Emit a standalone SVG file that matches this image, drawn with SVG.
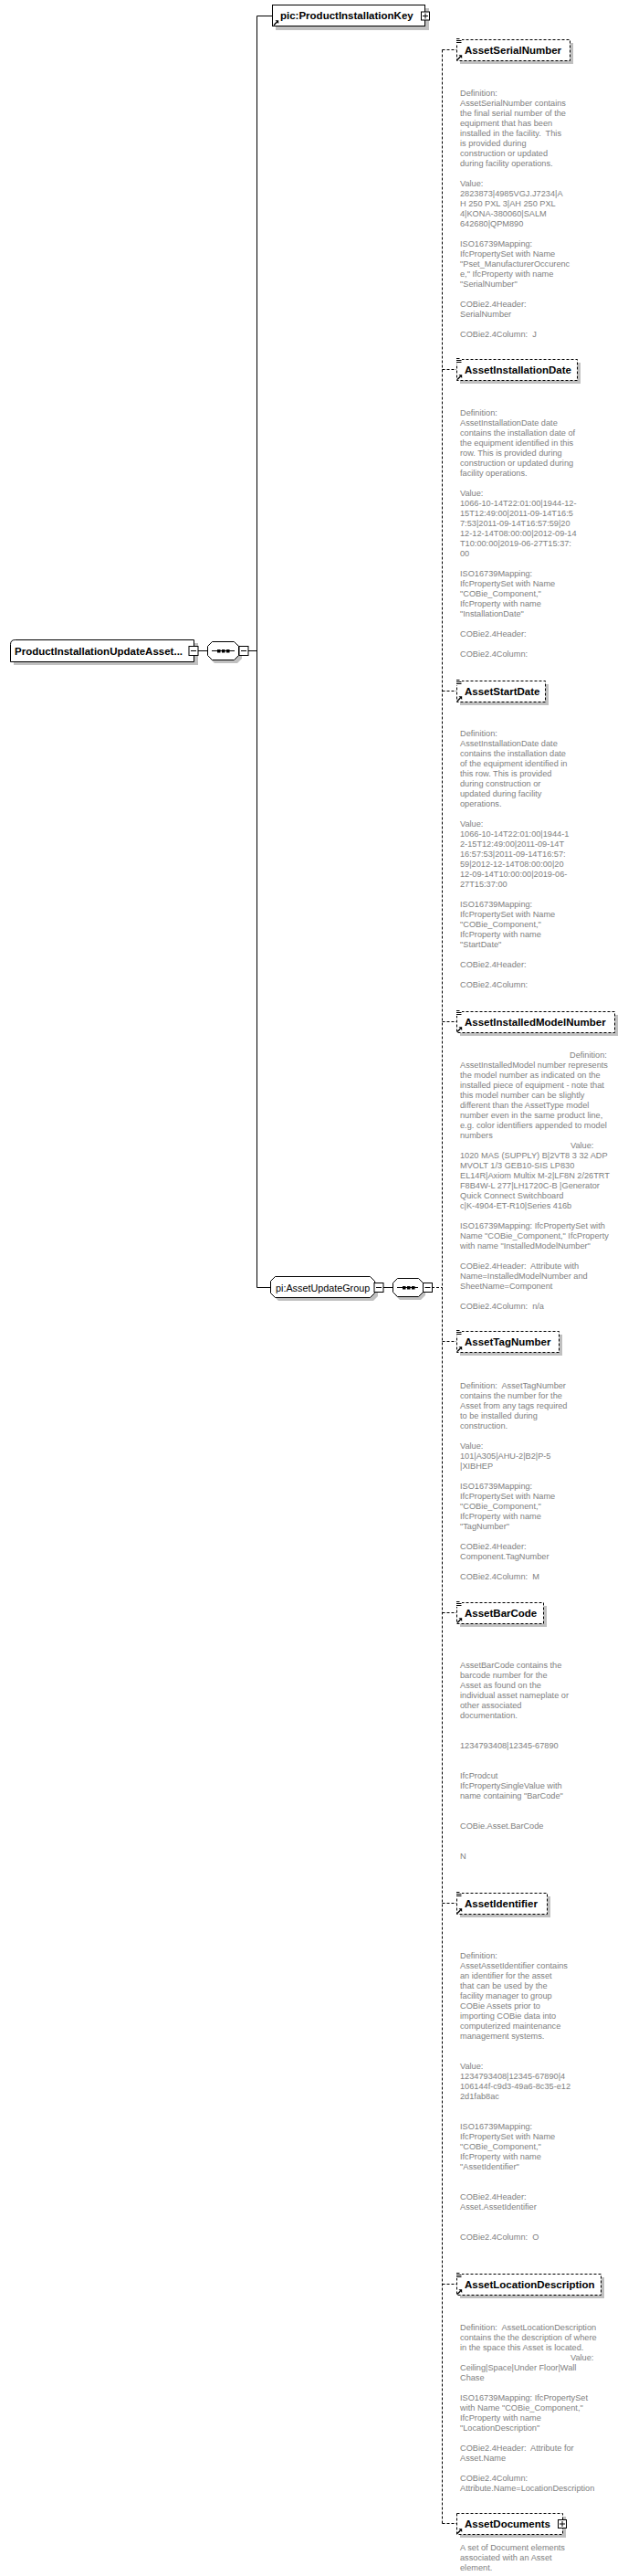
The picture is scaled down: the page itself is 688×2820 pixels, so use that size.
<svg xmlns="http://www.w3.org/2000/svg" xmlns:xlink="http://www.w3.org/1999/xlink" width="688" height="2820" viewBox="0 0 688 2820">
<style>
.t{font-family:"Liberation Sans",Arial,sans-serif;font-size:11.5px;font-weight:bold;fill:#000}
.g{font-family:"Liberation Sans",Arial,sans-serif;font-size:10.8px;fill:#000}
.d{font-family:"Liberation Sans",Arial,sans-serif;font-size:9.2px;fill:#808080}
.sh{fill:#c0c0c0}
.bx{fill:#fff;stroke:#000;stroke-width:1;stroke-dasharray:3,2}
.sb{fill:#fff;stroke:#000;stroke-width:1}
.ln{stroke:#000;stroke-width:1;fill:none}
.dl{stroke:#000;stroke-width:1;fill:none;stroke-dasharray:3,2}
.ic{stroke:#000;stroke-width:1;fill:none}
</style>
<defs>
<g id="lst"><rect x="-1" y="-2" width="7" height="6" fill="#fff"/><path class="ic" d="M0,-1.5H3.5M0,0.5H5.5M0,2.5H5.5"/></g>
<g id="arr"><path d="M1,6.5L4.5,3" stroke="#000" stroke-width="1.4"/><path d="M2.5,1.2H6.2V4.9Z" fill="#000"/></g>
<g id="minus"><rect x="0.5" y="0.5" width="10" height="10" class="sb"/><path d="M2.5,5.5H8.5" class="ic"/></g>
<g id="plus"><rect x="0.5" y="0.5" width="9" height="9" class="sb" stroke-width="1.3"/><path d="M2,5H8M5,2V8" class="ic"/></g>
</defs>

<g id="connectors">
<path class="ln" d="M281.5,17.5V1409.5"/>
<path class="ln" d="M281.5,17.5H298"/>
<path class="ln" d="M281.5,1409.5H296"/>
<path class="ln" d="M217,712.5H227"/>
<path class="ln" d="M272,712.5H281.5"/>
<path class="ln" d="M420,1409.5H430"/>
<path class="dl" d="M473,1409.5H484.5"/>
<path class="dl" d="M484.5,54.5V2762.5"/>
<path class="dl" d="M484.5,54.5H500"/>
<path class="dl" d="M484.5,404.5H500"/>
<path class="dl" d="M484.5,756.5H500"/>
<path class="dl" d="M484.5,1118.5H500"/>
<path class="dl" d="M484.5,1468.5H500"/>
<path class="dl" d="M484.5,1765.5H500"/>
<path class="dl" d="M484.5,2083.5H500"/>
<path class="dl" d="M484.5,2500.5H500"/>
<path class="dl" d="M484.5,2762.5H500"/>
</g>

<g id="ProductInstallationUpdateAsset">
<rect class="sh" x="15" y="704" width="202" height="24"/>
<path class="sb" d="M11.5,705.5Q11.5,700.5 16.5,700.5H212.5V724.5H11.5Z"/>
<text class="t" x="16" y="717">ProductInstallationUpdateAsset...</text>
<use xlink:href="#minus" x="206.5" y="707"/>
</g>

<g id="seq1">
<path class="sh" d="M235,705H260L265,710V721L260,726H235L230,721V710Z"/>
<path class="sb" d="M232.5,702.5H256.5L261.5,707.5V717.5L256.5,722.5H232.5L227.5,717.5V707.5Z"/>
<path class="ln" d="M232,712.5H257"/>
<rect x="238" y="711" width="3.5" height="3.5" fill="#000"/>
<rect x="243" y="711" width="3.5" height="3.5" fill="#000"/>
<rect x="248" y="711" width="3.5" height="3.5" fill="#000"/>
<use xlink:href="#minus" x="261.5" y="707"/>
</g>

<g id="ProductInstallationKey">
<rect class="sh" x="302" y="9" width="168" height="24"/>
<rect class="sb" x="298.5" y="5.5" width="167" height="23"/>
<text class="t" x="307" y="21">pic:ProductInstallationKey</text>
<use xlink:href="#arr" x="299" y="21"/>
<use xlink:href="#plus" x="461" y="12.5"/>
</g>

<g id="AssetUpdateGroup">
<path class="sh" d="M305,1401H409L414,1406V1419L409,1424H305L300,1419V1406Z"/>
<path class="sb" d="M301.5,1397.5H405.5L410.5,1402.5V1415.5L405.5,1420.5H301.5L296.5,1415.5V1402.5Z"/>
<text class="g" x="302" y="1413.5">pi:AssetUpdateGroup</text>
<use xlink:href="#minus" x="409.5" y="1404"/>
</g>

<g id="seq2">
<path class="sh" d="M438,1402H461L466,1407V1418L461,1423H438L433,1418V1407Z"/>
<path class="sb" d="M435.5,1399.5H458.5L463.5,1404.5V1414.5L458.5,1419.5H435.5L430.5,1414.5V1404.5Z"/>
<path class="ln" d="M435,1409.5H458"/>
<rect x="441" y="1408" width="3.5" height="3.5" fill="#000"/>
<rect x="446" y="1408" width="3.5" height="3.5" fill="#000"/>
<rect x="451" y="1408" width="3.5" height="3.5" fill="#000"/>
<use xlink:href="#minus" x="463" y="1404"/>
</g>

<g id="AssetSerialNumber">
<rect class="sh" x="504" y="47" width="124" height="23"/>
<rect class="bx" x="500.5" y="43.5" width="124" height="23"/>
<use xlink:href="#lst" x="500" y="44"/>
<use xlink:href="#arr" x="500" y="59"/>
<text class="t" x="509" y="58.5">AssetSerialNumber</text>
<text class="d" x="504" y="104.5" xml:space="preserve"><tspan x="504" dy="0">Definition:</tspan><tspan x="504" dy="11">AssetSerialNumber contains</tspan><tspan x="504" dy="11">the final serial number of the</tspan><tspan x="504" dy="11">equipment that has been</tspan><tspan x="504" dy="11">installed in the facility.  This</tspan><tspan x="504" dy="11">is provided during</tspan><tspan x="504" dy="11">construction or updated</tspan><tspan x="504" dy="11">during facility operations.</tspan><tspan x="504" dy="22">Value:</tspan><tspan x="504" dy="11">2823873|4985VGJ.J7234|A</tspan><tspan x="504" dy="11">H 250 PXL 3|AH 250 PXL</tspan><tspan x="504" dy="11">4|KONA-380060|SALM</tspan><tspan x="504" dy="11">642680|QPM890</tspan><tspan x="504" dy="22">ISO16739Mapping:</tspan><tspan x="504" dy="11">IfcPropertySet with Name</tspan><tspan x="504" dy="11">"Pset_ManufacturerOccurenc</tspan><tspan x="504" dy="11">e," IfcProperty with name</tspan><tspan x="504" dy="11">"SerialNumber"</tspan><tspan x="504" dy="22">COBie2.4Header:</tspan><tspan x="504" dy="11">SerialNumber</tspan><tspan x="504" dy="22">COBie2.4Column:  J</tspan></text>
</g>

<g id="AssetInstallationDate">
<rect class="sh" x="504" y="397" width="132" height="23"/>
<rect class="bx" x="500.5" y="393.5" width="132" height="23"/>
<use xlink:href="#lst" x="500" y="394"/>
<use xlink:href="#arr" x="500" y="409"/>
<text class="t" x="509" y="408.5">AssetInstallationDate</text>
<text class="d" x="504" y="454.5" xml:space="preserve"><tspan x="504" dy="0">Definition:</tspan><tspan x="504" dy="11">AssetInstallationDate date</tspan><tspan x="504" dy="11">contains the installation date of</tspan><tspan x="504" dy="11">the equipment identified in this</tspan><tspan x="504" dy="11">row. This is provided during</tspan><tspan x="504" dy="11">construction or updated during</tspan><tspan x="504" dy="11">facility operations.</tspan><tspan x="504" dy="22">Value:</tspan><tspan x="504" dy="11">1066-10-14T22:01:00|1944-12-</tspan><tspan x="504" dy="11">15T12:49:00|2011-09-14T16:5</tspan><tspan x="504" dy="11">7:53|2011-09-14T16:57:59|20</tspan><tspan x="504" dy="11">12-12-14T08:00:00|2012-09-14</tspan><tspan x="504" dy="11">T10:00:00|2019-06-27T15:37:</tspan><tspan x="504" dy="11">00</tspan><tspan x="504" dy="22">ISO16739Mapping:</tspan><tspan x="504" dy="11">IfcPropertySet with Name</tspan><tspan x="504" dy="11">"COBie_Component,"</tspan><tspan x="504" dy="11">IfcProperty with name</tspan><tspan x="504" dy="11">"InstallationDate"</tspan><tspan x="504" dy="22">COBie2.4Header:</tspan><tspan x="504" dy="22">COBie2.4Column:</tspan></text>
</g>

<g id="AssetStartDate">
<rect class="sh" x="504" y="749" width="97" height="23"/>
<rect class="bx" x="500.5" y="745.5" width="97" height="23"/>
<use xlink:href="#lst" x="500" y="746"/>
<use xlink:href="#arr" x="500" y="761"/>
<text class="t" x="509" y="760.5">AssetStartDate</text>
<text class="d" x="504" y="805.5" xml:space="preserve"><tspan x="504" dy="0">Definition:</tspan><tspan x="504" dy="11">AssetInstallationDate date</tspan><tspan x="504" dy="11">contains the installation date</tspan><tspan x="504" dy="11">of the equipment identified in</tspan><tspan x="504" dy="11">this row. This is provided</tspan><tspan x="504" dy="11">during construction or</tspan><tspan x="504" dy="11">updated during facility</tspan><tspan x="504" dy="11">operations.</tspan><tspan x="504" dy="22">Value:</tspan><tspan x="504" dy="11">1066-10-14T22:01:00|1944-1</tspan><tspan x="504" dy="11">2-15T12:49:00|2011-09-14T</tspan><tspan x="504" dy="11">16:57:53|2011-09-14T16:57:</tspan><tspan x="504" dy="11">59|2012-12-14T08:00:00|20</tspan><tspan x="504" dy="11">12-09-14T10:00:00|2019-06-</tspan><tspan x="504" dy="11">27T15:37:00</tspan><tspan x="504" dy="22">ISO16739Mapping:</tspan><tspan x="504" dy="11">IfcPropertySet with Name</tspan><tspan x="504" dy="11">"COBie_Component,"</tspan><tspan x="504" dy="11">IfcProperty with name</tspan><tspan x="504" dy="11">"StartDate"</tspan><tspan x="504" dy="22">COBie2.4Header:</tspan><tspan x="504" dy="22">COBie2.4Column:</tspan></text>
</g>

<g id="AssetInstalledModelNumber">
<rect class="sh" x="504" y="1111" width="173" height="23"/>
<rect class="bx" x="500.5" y="1107.5" width="173" height="23"/>
<use xlink:href="#lst" x="500" y="1108"/>
<use xlink:href="#arr" x="500" y="1123"/>
<text class="t" x="509" y="1122.5">AssetInstalledModelNumber</text>
<text class="d" x="624" y="1157.5" xml:space="preserve"><tspan x="624" dy="0">Definition:</tspan><tspan x="504" dy="11">AssetInstalledModel number represents</tspan><tspan x="504" dy="11">the model number as indicated on the</tspan><tspan x="504" dy="11">installed piece of equipment - note that</tspan><tspan x="504" dy="11">this model number can be slightly</tspan><tspan x="504" dy="11">different than the AssetType model</tspan><tspan x="504" dy="11">number even in the same product line,</tspan><tspan x="504" dy="11">e.g. color identifiers appended to model</tspan><tspan x="504" dy="11">numbers</tspan><tspan x="625" dy="11">Value:</tspan><tspan x="504" dy="11">1020 MAS (SUPPLY) B|2VT8 3 32 ADP</tspan><tspan x="504" dy="11">MVOLT 1/3 GEB10-SIS LP830</tspan><tspan x="504" dy="11">EL14R|Axiom Multix M-2|LF8N 2/26TRT</tspan><tspan x="504" dy="11">F8B4W-L 277|LH1720C-B |Generator</tspan><tspan x="504" dy="11">Quick Connect Switchboard</tspan><tspan x="504" dy="11">c|K-4904-ET-R10|Series 416b</tspan><tspan x="504" dy="22">ISO16739Mapping: IfcPropertySet with</tspan><tspan x="504" dy="11">Name "COBie_Component," IfcProperty</tspan><tspan x="504" dy="11">with name "InstalledModelNumber"</tspan><tspan x="504" dy="22">COBie2.4Header:  Attribute with</tspan><tspan x="504" dy="11">Name=InstalledModelNumber and</tspan><tspan x="504" dy="11">SheetName=Component</tspan><tspan x="504" dy="22">COBie2.4Column:  n/a</tspan></text>
</g>

<g id="AssetTagNumber">
<rect class="sh" x="504" y="1461" width="112" height="23"/>
<rect class="bx" x="500.5" y="1457.5" width="112" height="23"/>
<use xlink:href="#lst" x="500" y="1458"/>
<use xlink:href="#arr" x="500" y="1473"/>
<text class="t" x="509" y="1472.5">AssetTagNumber</text>
<text class="d" x="504" y="1519.5" xml:space="preserve"><tspan x="504" dy="0">Definition:  AssetTagNumber</tspan><tspan x="504" dy="11">contains the number for the</tspan><tspan x="504" dy="11">Asset from any tags required</tspan><tspan x="504" dy="11">to be installed during</tspan><tspan x="504" dy="11">construction.</tspan><tspan x="504" dy="22">Value:</tspan><tspan x="504" dy="11">101|A305|AHU-2|B2|P-5</tspan><tspan x="504" dy="11">|XIBHEP</tspan><tspan x="504" dy="22">ISO16739Mapping:</tspan><tspan x="504" dy="11">IfcPropertySet with Name</tspan><tspan x="504" dy="11">"COBie_Component,"</tspan><tspan x="504" dy="11">IfcProperty with name</tspan><tspan x="504" dy="11">"TagNumber"</tspan><tspan x="504" dy="22">COBie2.4Header:</tspan><tspan x="504" dy="11">Component.TagNumber</tspan><tspan x="504" dy="22">COBie2.4Column:  M</tspan></text>
</g>

<g id="AssetBarCode">
<rect class="sh" x="504" y="1758" width="95" height="23"/>
<rect class="bx" x="500.5" y="1754.5" width="95" height="23"/>
<use xlink:href="#lst" x="500" y="1755"/>
<use xlink:href="#arr" x="500" y="1770"/>
<text class="t" x="509" y="1769.5">AssetBarCode</text>
<text class="d" x="504" y="1826" xml:space="preserve"><tspan x="504" dy="0">AssetBarCode contains the</tspan><tspan x="504" dy="11">barcode number for the</tspan><tspan x="504" dy="11">Asset as found on the</tspan><tspan x="504" dy="11">individual asset nameplate or</tspan><tspan x="504" dy="11">other associated</tspan><tspan x="504" dy="11">documentation.</tspan><tspan x="504" dy="33">1234793408|12345-67890</tspan><tspan x="504" dy="33">IfcProdcut</tspan><tspan x="504" dy="11">IfcPropertySingleValue with</tspan><tspan x="504" dy="11">name containing "BarCode"</tspan><tspan x="504" dy="33">COBie.Asset.BarCode</tspan><tspan x="504" dy="33">N</tspan></text>
</g>

<g id="AssetIdentifier">
<rect class="sh" x="504" y="2076" width="99" height="23"/>
<rect class="bx" x="500.5" y="2072.5" width="99" height="23"/>
<use xlink:href="#lst" x="500" y="2073"/>
<use xlink:href="#arr" x="500" y="2088"/>
<text class="t" x="509" y="2087.5">AssetIdentifier</text>
<text class="d" x="504" y="2144" xml:space="preserve"><tspan x="504" dy="0">Definition:</tspan><tspan x="504" dy="11">AssetAssetIdentifier contains</tspan><tspan x="504" dy="11">an identifier for the asset</tspan><tspan x="504" dy="11">that can be used by the</tspan><tspan x="504" dy="11">facility manager to group</tspan><tspan x="504" dy="11">COBie Assets prior to</tspan><tspan x="504" dy="11">importing COBie data into</tspan><tspan x="504" dy="11">computerized maintenance</tspan><tspan x="504" dy="11">management systems.</tspan><tspan x="504" dy="33">Value:</tspan><tspan x="504" dy="11">1234793408|12345-67890|4</tspan><tspan x="504" dy="11">106144f-c9d3-49a6-8c35-e12</tspan><tspan x="504" dy="11">2d1fab8ac</tspan><tspan x="504" dy="33">ISO16739Mapping:</tspan><tspan x="504" dy="11">IfcPropertySet with Name</tspan><tspan x="504" dy="11">"COBie_Component,"</tspan><tspan x="504" dy="11">IfcProperty with name</tspan><tspan x="504" dy="11">"AssetIdentifier"</tspan><tspan x="504" dy="33">COBie2.4Header:</tspan><tspan x="504" dy="11">Asset.AssetIdentifier</tspan><tspan x="504" dy="33">COBie2.4Column:  O</tspan></text>
</g>

<g id="AssetLocationDescription">
<rect class="sh" x="504" y="2493" width="158" height="23"/>
<rect class="bx" x="500.5" y="2489.5" width="158" height="23"/>
<use xlink:href="#lst" x="500" y="2490"/>
<use xlink:href="#arr" x="500" y="2505"/>
<text class="t" x="509" y="2504.5">AssetLocationDescription</text>
<text class="d" x="504" y="2550.5" xml:space="preserve"><tspan x="504" dy="0">Definition:  AssetLocationDescription</tspan><tspan x="504" dy="11">contains the the description of where</tspan><tspan x="504" dy="11">in the space this Asset is located.</tspan><tspan x="625" dy="11">Value:</tspan><tspan x="504" dy="11">Ceiling|Space|Under Floor|Wall</tspan><tspan x="504" dy="11">Chase</tspan><tspan x="504" dy="22">ISO16739Mapping: IfcPropertySet</tspan><tspan x="504" dy="11">with Name "COBie_Component,"</tspan><tspan x="504" dy="11">IfcProperty with name</tspan><tspan x="504" dy="11">"LocationDescription"</tspan><tspan x="504" dy="22">COBie2.4Header:  Attribute for</tspan><tspan x="504" dy="11">Asset.Name</tspan><tspan x="504" dy="22">COBie2.4Column:</tspan><tspan x="504" dy="11">Attribute.Name=LocationDescription</tspan></text>
</g>

<g id="AssetDocuments">
<rect class="sh" x="504" y="2755" width="116" height="23"/>
<rect class="bx" x="500.5" y="2751.5" width="116" height="23"/>
<use xlink:href="#arr" x="500" y="2767"/>
<text class="t" x="509" y="2766.5">AssetDocuments</text>
<use xlink:href="#plus" x="611" y="2758"/>
<text class="d" x="504" y="2791.5"><tspan x="504" dy="0">A set of Document elements</tspan><tspan x="504" dy="11">associated with an Asset</tspan><tspan x="504" dy="11">element.</tspan></text>
</g>
</svg>
